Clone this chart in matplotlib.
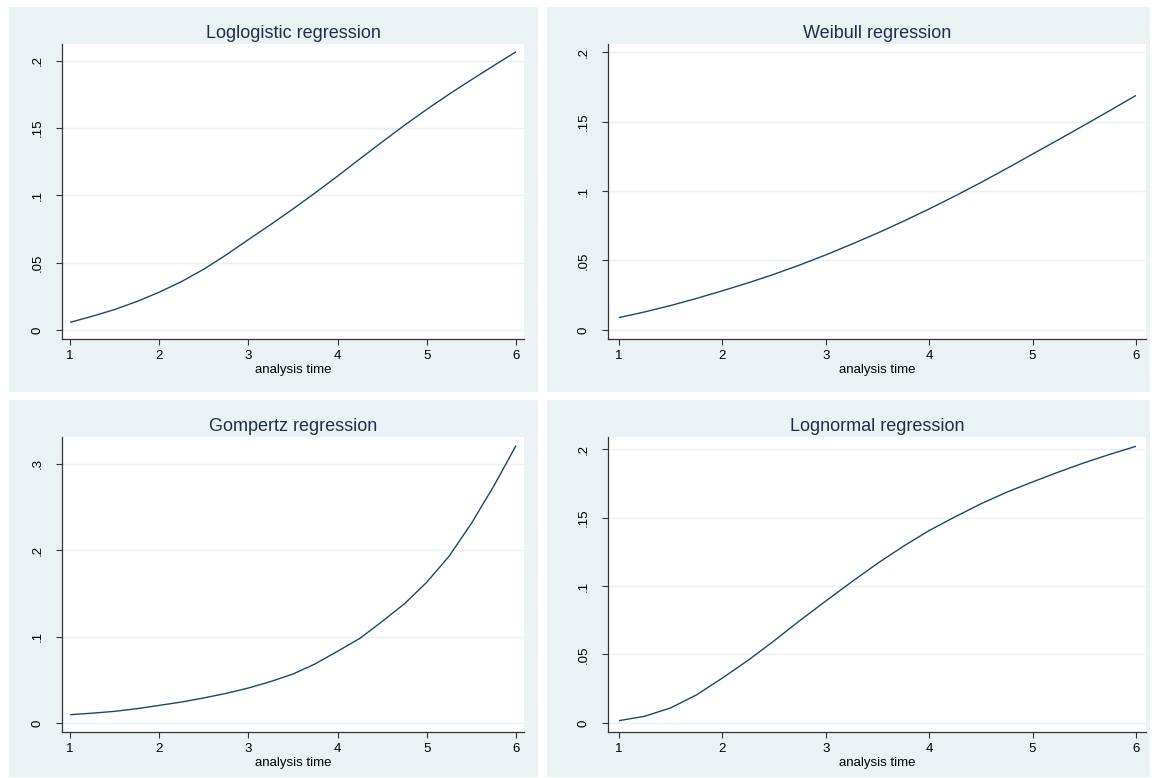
import matplotlib
matplotlib.use("Agg")
from matplotlib import pyplot as plt
from matplotlib.patches import Rectangle

plt.rcParams['font.family'] = ['Liberation Sans', 'DejaVu Sans']

# values (analysis time vs. predicted value)
t = [1, 1.25, 1.5, 1.75, 2, 2.25, 2.5, 2.75, 3, 3.25, 3.5,
     3.75, 4, 4.25, 4.5, 4.75, 5, 5.25, 5.5, 5.75, 6]

loglogistic = [0.0057, 0.0102, 0.0152, 0.0212, 0.0281, 0.0360, 0.0452, 0.0558, 0.0672, 0.0784, 0.0900,
               0.1020, 0.1144, 0.1272, 0.1398, 0.1522, 0.1640, 0.1753, 0.1860, 0.1965, 0.2068]
weibull = [0.0089, 0.0130, 0.0176, 0.0227, 0.0282, 0.0339, 0.0401, 0.0468, 0.0540, 0.0617, 0.0697,
           0.0782, 0.0871, 0.0964, 0.1061, 0.1162, 0.1266, 0.1369, 0.1474, 0.1580, 0.1688]
gompertz = [0.0096, 0.0114, 0.0135, 0.0166, 0.0204, 0.0243, 0.0290, 0.0343, 0.0405, 0.0480, 0.0567,
            0.0685, 0.0830, 0.0980, 0.1176, 0.1380, 0.1630, 0.1930, 0.2310, 0.2740, 0.3210]
lognormal = [0.0017, 0.0049, 0.0110, 0.0205, 0.0328, 0.0458, 0.0600, 0.0748, 0.0890, 0.1030, 0.1165,
             0.1290, 0.1405, 0.1505, 0.1600, 0.1685, 0.1760, 0.1832, 0.1900, 0.1962, 0.2020]

titles = ["Loglogistic regression", "Weibull regression",
          "Gompertz regression", "Lognormal regression"]
xticks = [1, 2, 3, 4, 5, 6]
yticks_a = [0, 0.05, 0.1, 0.15, 0.2]
ylabels_a = ["0", ".05", ".1", ".15", ".2"]
yticks_b = [0, 0.1, 0.2, 0.3]
ylabels_b = ["0", ".1", ".2", ".3"]

W, H = 1152, 778
bg = '#eaf2f3'
navy = '#1a476f'

fig = plt.figure(figsize=(W / 100, H / 100), dpi=100)
fig.patch.set_facecolor('white')

def px_box(x0, y0, x1, y1):
    # pixel box (top-left origin) -> figure fraction [l, b, w, h]
    return [x0 / W, 1 - y1 / H, (x1 - x0) / W, (y1 - y0) / H]

# grey panel backgrounds
for (x0, y0, x1, y1) in [(9, 7, 538, 392), (547, 7, 1150, 392),
                         (9, 400, 538, 777), (547, 400, 1150, 777)]:
    l, b, w, h = px_box(x0, y0, x1, y1)
    fig.patches.append(Rectangle((l, b), w, h, transform=fig.transFigure,
                                 facecolor=bg, edgecolor='none', zorder=-5))

panels = [
    (px_box(62, 44, 524, 339), loglogistic, yticks_a, ylabels_a, (0.910, 6.090), (-0.0067, 0.2126)),
    (px_box(608, 44, 1146, 339), weibull, yticks_a, ylabels_a, (0.894, 6.097), (-0.0065, 0.2058)),
    (px_box(62, 437, 524, 732), gompertz, yticks_b, ylabels_b, (0.910, 6.090), (-0.0104, 0.331)),
    (px_box(608, 437, 1146, 732), lognormal, yticks_a, ylabels_a, (0.894, 6.097), (-0.0066, 0.2088)),
]

for i, (box, y, yt, yl, xlim, ylim) in enumerate(panels):
    ax = fig.add_axes(box)
    ax.set_facecolor('white')
    ax.plot(t, y, color=navy, lw=1.0, solid_capstyle='butt')
    ax.set_xlim(*xlim)
    ax.set_ylim(*ylim)
    ax.set_xticks(xticks)
    ax.set_xticklabels([str(v) for v in xticks])
    ax.set_yticks(yt)
    ax.set_yticklabels(yl, rotation=90, va='center')
    for g in yt:
        ax.axhline(g, color=bg, lw=1.0, zorder=0)
    for s in ['top', 'right']:
        ax.spines[s].set_visible(False)
    for s in ['left', 'bottom']:
        ax.spines[s].set_color('#333333')
        ax.spines[s].set_linewidth(0.9)
    ax.tick_params(axis='both', direction='out', length=4, width=0.8,
                   color='#333333', labelsize=9.5, labelcolor='black')
    ax.tick_params(axis='x', pad=4)
    ax.tick_params(axis='y', pad=9)
    ax.set_title(titles[i], fontsize=13, color='#1f2d50', pad=4)
    ax.set_xlabel("analysis time", fontsize=9.5, labelpad=1.5)

fig.savefig("out.png", dpi=100, facecolor='white')
